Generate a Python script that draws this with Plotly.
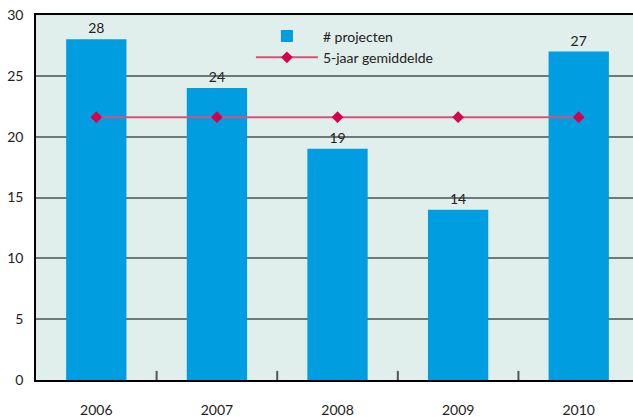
import plotly.graph_objects as go

years = ["2006", "2007", "2008", "2009", "2010"]
projecten = [28, 24, 19, 14, 27]
gemiddelde = [21.6, 21.6, 21.6, 21.6, 21.6]
y_ticks = [0, 5, 10, 15, 20, 25, 30]

font_family = "Lato, 'Open Sans', sans-serif"

fig = go.Figure()
fig.add_trace(go.Bar(
    x=years, y=projecten, name="# projecten",
    marker=dict(color="#009EE0", line=dict(width=0)),
    text=[str(v) for v in projecten], textposition="outside",
    textfont=dict(size=14, color="#222222", family=font_family),
    cliponaxis=False,
))
fig.add_trace(go.Scatter(
    x=years, y=gemiddelde, name="5-jaar gemiddelde", mode="lines+markers",
    line=dict(color="#DA5077", width=2),
    marker=dict(symbol="diamond", size=9, color="#D7004B"),
))

fig.update_layout(
    width=633, height=417,
    margin=dict(l=36, r=0, t=15, b=37, autoexpand=False),
    paper_bgcolor="white", plot_bgcolor="#E0EFEB",
    bargap=0.5,
    font=dict(family=font_family, size=14, color="#222222"),
    showlegend=True,
    legend=dict(
        x=0.36, y=0.985, xanchor="left", yanchor="top",
        bgcolor="rgba(0,0,0,0)", tracegroupgap=0,
        font=dict(size=14, color="#222222"),
        itemwidth=62,
    ),
    xaxis=dict(
        range=[-0.5, 4.45], showline=True, linecolor="black", linewidth=1.5,
        mirror=True, ticks="", showgrid=False, automargin=False,
        ticklabelstandoff=16,
        tickfont=dict(size=14),
    ),
    yaxis=dict(
        range=[0, 30], tickvals=y_ticks, showline=True, linecolor="black",
        linewidth=1.5, showgrid=True, gridcolor="#6E7A77", gridwidth=2,
        zeroline=False, ticks="", ticklabelstandoff=8, automargin=False,
        ticklabeloverflow="allow",
        tickfont=dict(size=14),
    ),
)

# category separator ticks on the bottom axis
for i in range(1, 5):
    fig.add_shape(type="line", xref="x", yref="paper",
                  x0=i - 0.5, x1=i - 0.5, y0=0, y1=0.025,
                  line=dict(color="#555555", width=2))

# remove the default 8px page margin so the figure fills the window
fig.write_html("out.html",
               config={"displayModeBar": False},
               post_script="document.body.style.margin='0';document.body.style.overflow='hidden';")
